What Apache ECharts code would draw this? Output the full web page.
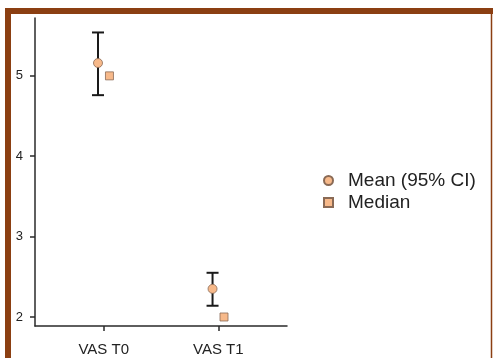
<!DOCTYPE html>
<html>
<head>
<meta charset="utf-8">
<script src="https://cdn.jsdelivr.net/npm/echarts@6/dist/echarts.min.js"></script>
<style>
html,body{margin:0;padding:0;background:#fff;}
#main{width:493px;height:358px;}
</style>
</head>
<body>
<div id="main"></div>
<script>
var categories = ['VAS T0', 'VAS T1'];
var meanValues = [5.16, 2.35];
var lowerCI = [4.76, 2.14];
var upperCI = [5.54, 2.55];
var medianValues = [5.0, 2.0];
var yTicks = [2, 3, 4, 5];

var dodge = 0.05;
var meanData = meanValues.map(function (v, i) { return [i + 1 - dodge, v]; });
var medianData = medianValues.map(function (v, i) { return [i + 1 + dodge, v]; });
var ciData = meanValues.map(function (v, i) { return [i + 1 - dodge, lowerCI[i], upperCI[i]]; });

var fill = '#F7B98A';
var edge = '#8a6a55';
var font = 'Liberation Sans, Arial, sans-serif';

var chart = echarts.init(document.getElementById('main'));
chart.setOption({
  animation: false,
  backgroundColor: '#fff',
  grid: { left: 35, top: 18, right: 206, bottom: 32, containLabel: false },
  xAxis: {
    type: 'value', min: 0.4, max: 2.6,
    splitLine: { show: false },
    axisLine: { lineStyle: { color: '#2a2a2a', width: 1.5 } },
    axisTick: { customValues: [1, 2], length: 5, lineStyle: { color: '#2a2a2a', width: 1.5 } },
    axisLabel: {
      customValues: [1, 2],
      formatter: function (v) { return categories[Math.round(v) - 1] || ''; },
      color: '#222', fontSize: 15, fontFamily: font, margin: 16
    }
  },
  yAxis: {
    type: 'value', min: 1.888, max: 5.72,
    splitLine: { show: false },
    axisLine: { show: true, lineStyle: { color: '#2a2a2a', width: 1.5 } },
    axisTick: { show: true, customValues: yTicks, length: 5, lineStyle: { color: '#2a2a2a', width: 1.5 } },
    axisLabel: {
      customValues: yTicks,
      color: '#222', fontSize: 13, fontFamily: font, margin: 12
    }
  },
  legend: {
    left: 318, top: 166, orient: 'vertical', itemGap: 3,
    itemWidth: 9, itemHeight: 9,
    textStyle: { fontSize: 19, color: '#222', fontFamily: font, padding: [0, 0, 0, 10], lineHeight: 18 },
    data: [
      { name: 'Mean (95% CI)', icon: 'circle' },
      { name: 'Median', icon: 'rect' }
    ]
  },
  graphic: [
    { type: 'polyline', shape: { points: [[8, 360], [8, 11], [495, 11]] }, style: { stroke: '#8B3F12', lineWidth: 6, fill: null }, z: 100 },
    { type: 'line', shape: { x1: 491.5, y1: 11, x2: 491.5, y2: 360 }, style: { stroke: '#8B3F12', lineWidth: 1.5 }, z: 100 }
  ],
  series: [
    {
      type: 'custom', name: 'ci',
      data: ciData,
      encode: { x: 0, y: [1, 2] },
      renderItem: function (params, api) {
        var x = api.value(0);
        var lo = api.coord([x, api.value(1)]);
        var hi = api.coord([x, api.value(2)]);
        var hw = 6;
        var st = { stroke: '#1a1a1a', lineWidth: 2 };
        return {
          type: 'group',
          children: [
            { type: 'line', shape: { x1: lo[0], y1: lo[1], x2: hi[0], y2: hi[1] }, style: st },
            { type: 'line', shape: { x1: lo[0] - hw, y1: lo[1], x2: lo[0] + hw, y2: lo[1] }, style: st },
            { type: 'line', shape: { x1: hi[0] - hw, y1: hi[1], x2: hi[0] + hw, y2: hi[1] }, style: st }
          ]
        };
      },
      z: 2
    },
    {
      type: 'scatter', name: 'Mean (95% CI)', symbol: 'circle', symbolSize: 9,
      data: meanData,
      itemStyle: { color: fill, borderColor: edge, borderWidth: 0.8, opacity: 1 },
      z: 3
    },
    {
      type: 'scatter', name: 'Median', symbol: 'rect', symbolSize: 8,
      data: medianData,
      itemStyle: { color: fill, borderColor: edge, borderWidth: 0.8, opacity: 1 },
      z: 3
    }
  ]
});
</script>
</body>
</html>
